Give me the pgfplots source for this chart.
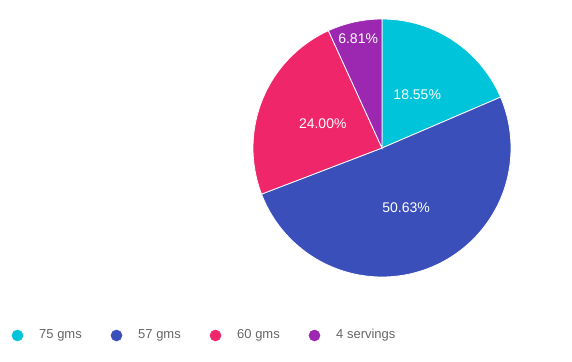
\documentclass[border=0pt]{standalone}
\usepackage{pgfplots}
\pgfplotsset{compat=1.18}
\usepackage{fontspec}
\setmainfont{Liberation Sans}
\definecolor{c1}{HTML}{00C4DA}
\definecolor{c2}{HTML}{3B4FBB}
\definecolor{c3}{HTML}{F0266A}
\definecolor{c4}{HTML}{9C27B0}
\definecolor{lg}{HTML}{666666}
% data (percent)
\def\va{18.55}\def\vb{50.63}\def\vc{24.00}\def\vd{6.81}
\pgfmathsetmacro{\aa}{90}
\pgfmathsetmacro{\ab}{\aa-3.6*\va}
\pgfmathsetmacro{\ac}{\ab-3.6*\vb}
\pgfmathsetmacro{\ad}{\ac-3.6*\vc}
\pgfmathsetmacro{\ae}{\ad-3.6*\vd}
\def\cx{382}\def\cy{214}\def\R{129}
\begin{document}
\begin{tikzpicture}
\begin{axis}[scale only axis, width=572bp, height=362bp,
  xmin=0, xmax=572, ymin=0, ymax=362, hide axis, clip=false]
\path (axis cs:0,0) rectangle (axis cs:572,362);
\addplot[fill=c1, draw=white, line width=0.8pt, domain=\aa:\ab, samples=60]
  ({\cx+\R*cos(x)},{\cy+\R*sin(x)}) -- (axis cs:\cx,\cy) -- cycle;
\addplot[fill=c2, draw=white, line width=0.8pt, domain=\ab:\ac, samples=120]
  ({\cx+\R*cos(x)},{\cy+\R*sin(x)}) -- (axis cs:\cx,\cy) -- cycle;
\addplot[fill=c3, draw=white, line width=0.8pt, domain=\ac:\ad, samples=60]
  ({\cx+\R*cos(x)},{\cy+\R*sin(x)}) -- (axis cs:\cx,\cy) -- cycle;
\addplot[fill=c4, draw=white, line width=0.8pt, domain=\ad:\ae, samples=30]
  ({\cx+\R*cos(x)},{\cy+\R*sin(x)}) -- (axis cs:\cx,\cy) -- cycle;
% slice labels at half radius
\pgfmathsetmacro{\ma}{(\aa+\ab)/2}\pgfmathsetmacro{\mb}{(\ab+\ac)/2}
\pgfmathsetmacro{\mc}{(\ac+\ad)/2}\pgfmathsetmacro{\md}{(\ad+\ae)/2}
\node[text=white, font=\fontsize{14bp}{16bp}\selectfont] at (axis cs:{\cx+64*cos(\ma)},{\cy+64*sin(\ma)}) {18.55\%};
\node[text=white, font=\fontsize{14bp}{16bp}\selectfont] at (axis cs:{\cx+64*cos(\mb)},{\cy+64*sin(\mb)}) {50.63\%};
\node[text=white, font=\fontsize{14bp}{16bp}\selectfont] at (axis cs:{\cx+64*cos(\mc)},{\cy+64*sin(\mc)}) {24.00\%};
\node[text=white, font=\fontsize{14bp}{16bp}\selectfont] at (axis cs:{\cx+112*cos(\md)},{\cy+112*sin(\md)}) {6.81\%};
% legend
\addplot[only marks, mark=*, mark size=5.6pt, c1] coordinates {(17.5,26.5)};
\addplot[only marks, mark=*, mark size=5.6pt, c2] coordinates {(116.5,26.5)};
\addplot[only marks, mark=*, mark size=5.6pt, c3] coordinates {(215.5,26.5)};
\addplot[only marks, mark=*, mark size=5.6pt, c4] coordinates {(314.5,26.5)};
\node[anchor=west, text=lg, inner sep=0pt, font=\fontsize{13bp}{15bp}\selectfont] at (axis cs:39,26.5) {75 gms};
\node[anchor=west, text=lg, inner sep=0pt, font=\fontsize{13bp}{15bp}\selectfont] at (axis cs:138,26.5) {57 gms};
\node[anchor=west, text=lg, inner sep=0pt, font=\fontsize{13bp}{15bp}\selectfont] at (axis cs:237,26.5) {60 gms};
\node[anchor=west, text=lg, inner sep=0pt, font=\fontsize{13bp}{15bp}\selectfont] at (axis cs:336,26.5) {4 servings};
\end{axis}
\end{tikzpicture}
\end{document}
